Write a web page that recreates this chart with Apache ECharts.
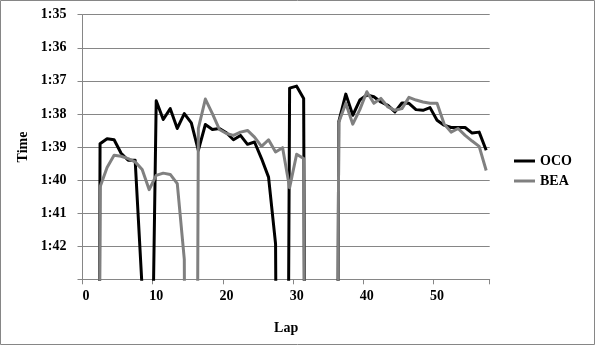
<!DOCTYPE html>
<html>
<head>
<meta charset="utf-8">
<script src="https://cdn.jsdelivr.net/npm/echarts@6/dist/echarts.min.js"></script>
<style>
html,body{margin:0;padding:0;background:#fff;}
#chart{width:595px;height:345px;}
</style>
</head>
<body>
<div id="chart"></div>
<script>
// Laps (category axis, 0..57)
const laps = [];
for (let i = 0; i <= 57; i++) laps.push(String(i));

// Lap times in seconds (off-chart values are pit / slow laps, clipped by the axis)
const oco = [null, 160, 98.90, 98.75, 98.78, 99.19, 99.40, 99.40, 103.3, 112,
  97.60, 98.17, 97.84, 98.44, 97.99, 98.27, 99.10, 98.32, 98.47, 98.44,
  98.57, 98.78, 98.65, 98.92, 98.85, 99.35, 99.91, 101.93, 140, 97.22,
  97.16, 97.53, 150, 150, 150, 150, 98.24, 97.40, 98.04, 97.58,
  97.43, 97.48, 97.64, 97.74, 97.94, 97.67, 97.68, 97.87, 97.89, 97.81,
  98.19, 98.34, 98.41, 98.41, 98.41, 98.58, 98.55, 99.10];

const bea = [null, 160, 100.21, 99.62, 99.25, 99.28, 99.35, 99.45, 99.68, 100.29,
  99.86, 99.79, 99.83, 100.11, 102.4, 150, 98.44, 97.55, 97.99, 98.47,
  98.59, 98.65, 98.55, 98.50, 98.70, 98.98, 98.78, 99.15, 99.02, 100.23,
  99.22, 99.35, 150, 150, 150, 150, 98.26, 97.68, 98.31, 97.87,
  97.33, 97.68, 97.53, 97.79, 97.89, 97.84, 97.50, 97.58, 97.64, 97.68,
  97.68, 98.30, 98.55, 98.44, 98.65, 98.82, 98.98, 99.71];

const seriesNames = ['OCO', 'BEA'];
const yMin = 95, yMax = 103;

const font = 'Liberation Serif';
const chart = echarts.init(document.getElementById('chart'), null, {renderer: 'canvas'});
chart.setOption({
  animation: false,
  backgroundColor: '#fff',
  graphic: [{
    type: 'rect', silent: true,
    shape: {x: 0.5, y: 0.5, width: 594, height: 344},
    style: {fill: 'none', stroke: '#868686', lineWidth: 1}
  }],
  grid: {left: 82.5, top: 14.7, right: 105.3, bottom: 65.7, containLabel: false},
  legend: {
    data: seriesNames,
    orient: 'vertical',
    left: 514, top: 154,
    itemWidth: 21, itemHeight: 3, itemGap: 6,
    icon: 'rect',
    padding: 0,
    textStyle: {fontFamily: font, fontWeight: 'bold', fontSize: 14, color: '#000'}
  },
  xAxis: {
    type: 'category',
    data: laps,
    boundaryGap: true,
    name: 'Lap',
    nameLocation: 'middle',
    nameGap: 42,
    nameTextStyle: {fontFamily: font, fontWeight: 'bold', fontSize: 14, color: '#000'},
    axisLine: {lineStyle: {color: '#868686', width: 1}},
    axisTick: {show: true, interval: 9, length: 5, lineStyle: {color: '#868686'}},
    axisLabel: {interval: 9, margin: 10, fontFamily: font, fontWeight: 'bold', fontSize: 14, color: '#000'},
    splitLine: {show: false}
  },
  yAxis: {
    type: 'value',
    inverse: true,
    min: yMin, max: yMax, interval: 1,
    name: 'Time',
    nameLocation: 'middle',
    nameGap: 52,
    nameRotate: 90,
    nameTextStyle: {fontFamily: font, fontWeight: 'bold', fontSize: 14, color: '#000'},
    axisLine: {show: true, lineStyle: {color: '#868686', width: 1}},
    axisTick: {show: true, inside: false, length: 5, lineStyle: {color: '#868686'}},
    axisLabel: {
      margin: 16, fontFamily: font, fontWeight: 'bold', fontSize: 14, color: '#000',
      formatter: function (v) { return v >= yMax ? '' : '1:' + String(v - 60); }
    },
    splitLine: {show: true, lineStyle: {color: '#868686', width: 1}}
  },
  series: [
    {name: 'OCO', type: 'line', data: oco, showSymbol: false, symbol: 'none', clip: true,
     connectNulls: false, lineStyle: {color: '#000000', width: 3, join: 'round'}, itemStyle: {color: '#000000'}},
    {name: 'BEA', type: 'line', data: bea, showSymbol: false, symbol: 'none', clip: true,
     connectNulls: false, lineStyle: {color: '#808080', width: 3, join: 'round'}, itemStyle: {color: '#808080'}}
  ]
});
</script>
</body>
</html>
